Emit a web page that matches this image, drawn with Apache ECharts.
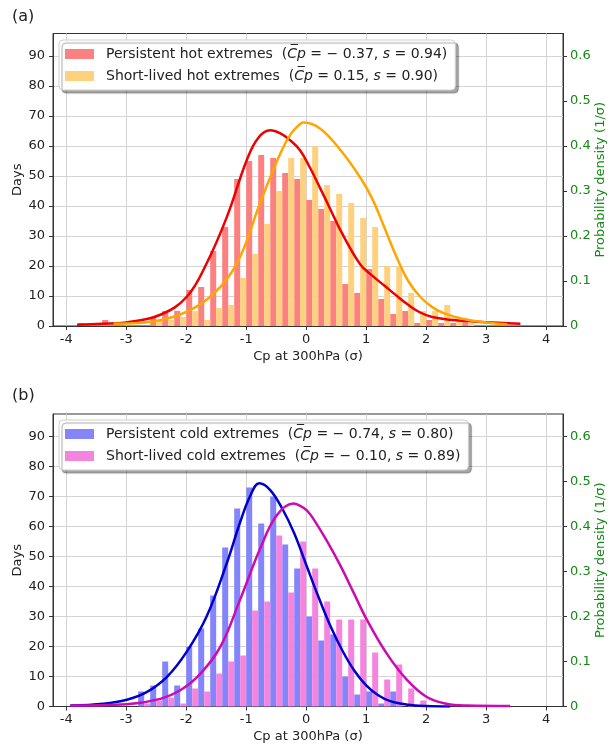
<!DOCTYPE html>
<html>
<head>
<meta charset="utf-8">
<script src="https://cdn.jsdelivr.net/npm/echarts@6/dist/echarts.min.js"></script>
<style>
html, body { margin: 0; padding: 0; background: #fff; }
#chart { width: 616px; height: 746px; }
</style>
</head>
<body>
<div id="chart"></div>
<script>
// histogram bins (sigma), 0.2 wide
const binCenters = [-3.7, -3.5, -3.3, -3.1, -2.9, -2.7, -2.5, -2.3, -2.1, -1.9, -1.7, -1.5, -1.3,
    -1.1, -0.9, -0.7, -0.5, -0.3, -0.1, 0.1, 0.3, 0.5, 0.7, 0.9, 1.1, 1.3, 1.5, 1.7, 1.9, 2.1,
    2.3, 2.5, 2.7, 2.9, 3.1, 3.3, 3.5];

// days per bin
const hotPersistent = [1, 0, 2, 0, 0, 0, 3, 5, 5, 12, 13, 25, 33, 49, 55, 57, 56, 51, 49, 42, 39,
    35, 14, 11, 19, 9, 4, 5, 1, 2, 1, 1, 2, 0, 0, 0, 0];
const hotShort = [0, 0, 0, 0, 0, 0, 2, 2, 3, 5, 2, 6, 7, 16, 24, 34, 45, 56, 56, 60, 47,
    44, 41, 36, 33, 20, 20, 11, 5, 5, 7, 2, 1, 0, 0, 0, 0];
const coldPersistent = [0, 0, 0, 0, 0, 5, 7, 15, 7, 20, 26, 37, 53, 66, 73, 61, 70, 54, 46, 30, 22,
    24, 10, 4, 5, 1, 5, 0, 0, 0, 0, 0, 0, 0, 0, 0, 0];
const coldShort = [0, 0, 0, 0, 0, 1, 2, 3, 1, 6, 5, 11, 15, 17, 32, 35, 57, 38, 55, 46, 35,
    29, 29, 29, 18, 9, 14, 6, 2, 0, 0, 0, 0, 0, 0, 0, 0];

// density curves [sigma, 1/sigma]
const hotPersistentPdf = [[-3.82, 0.003], [-3.4, 0.005], [-3.0, 0.008], [-2.43, 0.025], [-1.99, 0.065],
    [-1.66, 0.139], [-1.32, 0.243], [-0.99, 0.369], [-0.8, 0.418], [-0.6, 0.435], [-0.43, 0.428],
    [-0.27, 0.413], [-0.1, 0.39], [0.07, 0.35], [0.23, 0.307], [0.4, 0.26], [0.57, 0.213],
    [0.9, 0.137], [1.1, 0.112], [1.3, 0.09], [1.5, 0.068], [1.7, 0.047], [1.9, 0.03],
    [2.1, 0.02], [2.4, 0.014], [2.8, 0.01], [3.2, 0.007], [3.57, 0.005]];
const hotShortPdf = [[-3.21, 0.005], [-2.43, 0.013], [-1.88, 0.039], [-1.43, 0.087], [-1.1, 0.154],
    [-0.77, 0.273], [-0.43, 0.384], [-0.25, 0.428], [-0.1, 0.449], [-0.05, 0.452], [0.23, 0.439],
    [0.57, 0.391], [0.9, 0.33], [1.1, 0.283], [1.3, 0.22], [1.5, 0.155], [1.7, 0.1], [1.9, 0.065],
    [2.1, 0.042], [2.3, 0.028], [2.6, 0.016], [3.0, 0.008], [3.35, 0.004]];
const coldPersistentPdf = [[-3.93, 0.002], [-3.38, 0.006], [-2.99, 0.015], [-2.66, 0.032], [-2.32, 0.066],
    [-1.99, 0.122], [-1.66, 0.2], [-1.32, 0.32], [-1.1, 0.41], [-0.93, 0.469], [-0.78, 0.496],
    [-0.6, 0.481], [-0.4, 0.44], [-0.2, 0.385], [0.0, 0.315], [0.2, 0.245], [0.4, 0.18],
    [0.6, 0.125], [0.8, 0.08], [1.0, 0.047], [1.2, 0.025], [1.4, 0.012], [1.7, 0.004],
    [2.0, 0.001], [2.4, 0.0]];
const coldShortPdf = [[-3.93, 0.002], [-2.99, 0.005], [-2.43, 0.017], [-2.1, 0.036], [-1.77, 0.072],
    [-1.43, 0.133], [-1.1, 0.238], [-0.77, 0.35], [-0.49, 0.425], [-0.21, 0.451], [-0.1, 0.446],
    [0.01, 0.436], [0.12, 0.417], [0.34, 0.369], [0.57, 0.313], [0.79, 0.253], [1.01, 0.193],
    [1.34, 0.118], [1.68, 0.059], [2.01, 0.021], [2.34, 0.006], [2.68, 0.002], [3.4, 0.001]];

const xTicks = [-4, -3, -2, -1, 0, 1, 2, 3, 4];
const dayTicks = [0, 10, 20, 30, 40, 50, 60, 70, 80, 90];
const densityTicks = [0, 0.1, 0.2, 0.3, 0.4, 0.5, 0.6];

const legendTexts = {
    'Persistent hot extremes': ['\u2212 0.37', '0.94'],
    'Short-lived hot extremes': ['0.15', '0.90'],
    'Persistent cold extremes': ['\u2212 0.74', '0.80'],
    'Short-lived cold extremes': ['\u2212 0.10', '0.89']
};

const FONT = 'DejaVu Sans';
const GREEN = '#138a13';
const AXIS = '#333';

function pairs(xs, ys) {
    return xs.map(function (x, i) { return [x, ys[i]]; });
}

function makeGrid(top) {
    return {
        left: 53, right: 53, top: top, height: 292.5,
        show: true, borderColor: AXIS, borderWidth: 1,
        outerBoundsMode: 'none'
    };
}

function makeX(gi) {
    return {
        gridIndex: gi, type: 'value', min: -4.22, max: 4.28, splitNumber: 8,
        axisLine: { show: true, onZero: false, lineStyle: { color: AXIS } },
        axisTick: { show: true, length: 4, customValues: xTicks, lineStyle: { color: AXIS } },
        axisLabel: { customValues: xTicks, color: '#222', fontSize: 13, margin: 7, fontFamily: FONT },
        splitLine: { show: true, lineStyle: { color: '#d4d4d4' } },
        name: 'Cp at 300hPa (\u03c3)', nameLocation: 'middle', nameGap: 24, nameMoveOverlap: false,
        nameTextStyle: { fontSize: 13, color: '#222', fontFamily: FONT }
    };
}

function makeYLeft(gi) {
    return {
        gridIndex: gi, type: 'value', position: 'left', min: 0, max: 97.5, interval: 10,
        axisLine: { show: true, onZero: false, lineStyle: { color: AXIS } },
        axisTick: { show: true, length: 4, customValues: dayTicks, lineStyle: { color: AXIS } },
        axisLabel: { customValues: dayTicks, color: '#222', fontSize: 13, margin: 8, fontFamily: FONT },
        splitLine: { show: true, lineStyle: { color: '#d4d4d4' } },
        name: 'Days', nameLocation: 'middle', nameGap: 29, nameMoveOverlap: false,
        nameTextStyle: { fontSize: 13, color: '#222', fontFamily: FONT }
    };
}

function makeYRight(gi) {
    return {
        gridIndex: gi, type: 'value', position: 'right', min: 0, max: 0.65, interval: 0.1,
        axisLine: { show: true, onZero: false, lineStyle: { color: AXIS } },
        axisTick: { show: true, length: 4, customValues: densityTicks, lineStyle: { color: AXIS } },
        axisLabel: { customValues: densityTicks, color: GREEN, fontSize: 13, margin: 7, fontFamily: FONT },
        splitLine: { show: false },
        name: 'Probability density (1/\u03c3)', nameLocation: 'middle', nameGap: 31, nameMoveOverlap: false,
        nameTextStyle: { fontSize: 13, color: GREEN, fontFamily: FONT }
    };
}

function makeLegend(top, names) {
    return {
        left: 59, top: top, orient: 'vertical', data: names,
        icon: 'rect', itemWidth: 29, itemHeight: 10, itemGap: 8,
        padding: [7, 8, 7, 6],
        backgroundColor: '#fff', borderColor: '#cfcfcf', borderWidth: 1, borderRadius: 4,
        shadowColor: 'rgba(0,0,0,0.35)', shadowOffsetX: 3, shadowOffsetY: 3, shadowBlur: 1,
        selectedMode: false,
        formatter: function (name) {
            const t = legendTexts[name];
            return '{f|' + name + '  (}{i|C\u0305p}{n| = ' + t[0] + ', }{i|s}{n| = ' + t[1] + ')}';
        },
        textStyle: {
            fontFamily: FONT, fontSize: 14, color: '#222',
            rich: {
                f: { fontFamily: FONT, fontSize: 14, color: '#222', padding: [0, 0, 0, 7] },
                n: { fontFamily: FONT, fontSize: 14, color: '#222' },
                i: { fontFamily: FONT, fontSize: 14, color: '#222', fontStyle: 'italic' }
            }
        }
    };
}

function barSeries(name, gi, values, color) {
    return {
        name: name, type: 'bar', xAxisIndex: gi, yAxisIndex: gi * 2,
        data: pairs(binCenters, values), barWidth: 6, barGap: '0%',
        itemStyle: { color: color }
    };
}

function pdfSeries(gi, data, color) {
    return {
        type: 'line', xAxisIndex: gi, yAxisIndex: gi * 2 + 1,
        data: data, showSymbol: false, smooth: 0.4,
        lineStyle: { color: color, width: 2.5 }, itemStyle: { color: color },
        silent: true
    };
}

const chart = echarts.init(document.getElementById('chart'));

const option = {
    animation: false,
    textStyle: { fontFamily: FONT },
    title: [
        { text: '(a)', left: 12, top: 9, padding: 0, textStyle: { fontSize: 16, fontWeight: 'normal', color: '#222', fontFamily: FONT } },
        { text: '(b)', left: 12, top: 388, padding: 0, textStyle: { fontSize: 16, fontWeight: 'normal', color: '#222', fontFamily: FONT } }
    ],
    grid: [makeGrid(33.5), makeGrid(414)],
    xAxis: [makeX(0), makeX(1)],
    yAxis: [makeYLeft(0), makeYRight(0), makeYLeft(1), makeYRight(1)],
    legend: [
        makeLegend(40, ['Persistent hot extremes', 'Short-lived hot extremes']),
        makeLegend(420, ['Persistent cold extremes', 'Short-lived cold extremes'])
    ],
    series: [
        barSeries('Persistent hot extremes', 0, hotPersistent, '#fb8080'),
        barSeries('Short-lived hot extremes', 0, hotShort, '#ffd07e'),
        barSeries('Persistent cold extremes', 1, coldPersistent, '#8484fb'),
        barSeries('Short-lived cold extremes', 1, coldShort, '#f484de'),
        pdfSeries(0, hotPersistentPdf, '#ee0000'),
        pdfSeries(0, hotShortPdf, '#ffa500'),
        pdfSeries(1, coldPersistentPdf, '#0000cc'),
        pdfSeries(1, coldShortPdf, '#cc0cb0')
    ]
};

chart.setOption(option);
</script>
</body>
</html>
